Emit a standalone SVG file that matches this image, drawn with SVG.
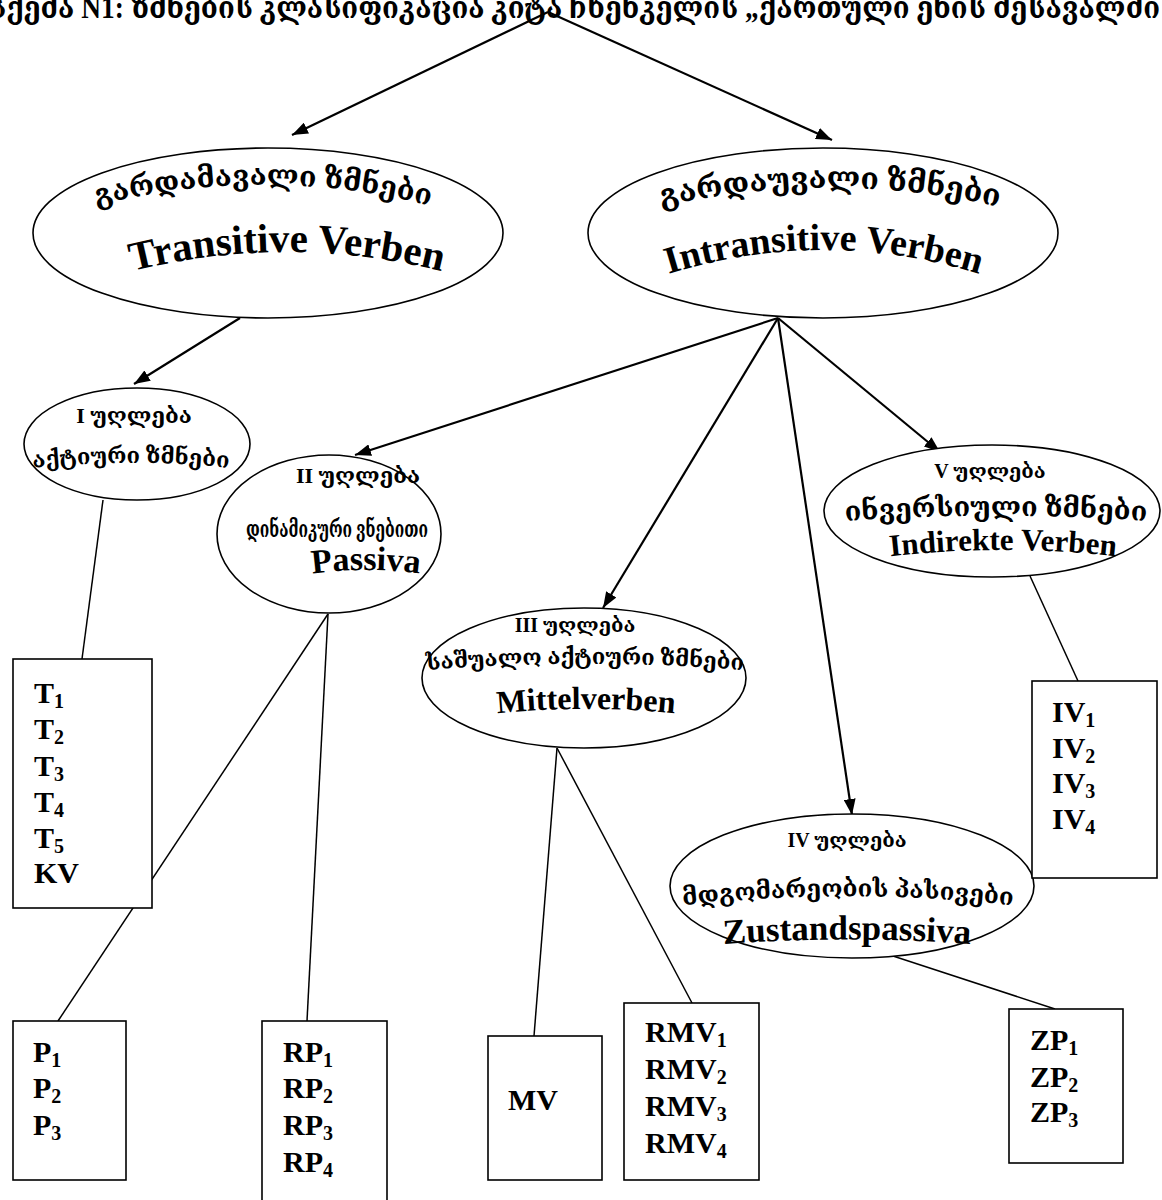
<svg xmlns="http://www.w3.org/2000/svg" width="1162" height="1200" viewBox="0 0 1162 1200">
<style>
.ell{fill:#fff;stroke:#000;stroke-width:1.6}
.box{fill:#fff;stroke:#000;stroke-width:1.6}
.ln{fill:none;stroke:#000;stroke-width:1.5}
.ar{fill:none;stroke:#000;stroke-width:2.2}
.geo{font-family:"Liberation Serif","DejaVu Serif","DejaVu Sans",serif;font-weight:bold;fill:#000}
.lat{font-family:"Liberation Serif","DejaVu Serif",serif;font-weight:bold;fill:#000}
.bx{font-family:"Liberation Serif","Times New Roman",serif;font-weight:bold;font-size:30px;fill:#000}
.sub{font-size:20px}
.guide{fill:none;stroke:none}
</style>
<defs>
<marker id="ah" viewBox="0 0 16 12" refX="16" refY="6" markerWidth="16" markerHeight="12" orient="auto" markerUnits="userSpaceOnUse"><path d="M0,0 L16,6 L0,12 z" fill="#000"/></marker>
<path id="p1a" class="guide" d="M 80 210 Q 263 160 446 210"/>
<path id="p1b" class="guide" d="M 100 280 Q 287 224 474 280"/>
<path id="p2a" class="guide" d="M 640 212 Q 830 164 1020 212"/>
<path id="p2b" class="guide" d="M 650 280 Q 824 220 998 280"/>
<path id="p3a" class="guide" d="M 15 470 Q 131 456 247 470"/>
<path id="p4b" class="guide" d="M 285 578 Q 366 562 447 578"/>
<path id="p5a" class="guide" d="M 405 672 Q 585 656 765 672"/>
<path id="p5b" class="guide" d="M 465 717 Q 586 701 707 717"/>
<path id="p6a" class="guide" d="M 805 524 Q 996 508 1187 524"/>
<path id="p6b" class="guide" d="M 860 560 Q 1003 540 1146 560"/>
<path id="p7a" class="guide" d="M 670 907 Q 848 886 1026 907"/>
<path id="p7b" class="guide" d="M 700 946 Q 847 933 994 946"/>
</defs>
<rect width="1162" height="1200" fill="#fff"/>

<g id="title">
<text class="geo" x="-12" y="18" font-size="31" textLength="1172" lengthAdjust="spacingAndGlyphs">სქემა N1: ზმნების კლასიფიკაცია კიტა ჩხენკელის „ქართული ენის შესავალში</text>
</g>

<g id="connectors">
<line class="ar" x1="548" y1="12" x2="292" y2="135" marker-end="url(#ah)"/>
<line class="ar" x1="548" y1="12" x2="832" y2="140" marker-end="url(#ah)"/>
<line class="ar" x1="240" y1="318" x2="134" y2="384" marker-end="url(#ah)"/>
<line class="ar" x1="778" y1="318" x2="355" y2="455" marker-end="url(#ah)"/>
<line class="ar" x1="778" y1="318" x2="603" y2="608" marker-end="url(#ah)"/>
<line class="ar" x1="778" y1="318" x2="852" y2="815" marker-end="url(#ah)"/>
<line class="ar" x1="778" y1="318" x2="940" y2="452" marker-end="url(#ah)"/>
<line class="ln" x1="103" y1="500" x2="82" y2="659"/>
<line class="ln" x1="328" y1="614" x2="58" y2="1021"/>
<line class="ln" x1="328" y1="614" x2="307" y2="1021"/>
<line class="ln" x1="557" y1="748" x2="534" y2="1036"/>
<line class="ln" x1="557" y1="748" x2="692" y2="1003"/>
<line class="ln" x1="1030" y1="576" x2="1078" y2="681"/>
<line class="ln" x1="893" y1="956" x2="1055" y2="1009"/>
</g>

<g id="node-transitive">
<ellipse class="ell" cx="268" cy="233" rx="235" ry="85"/>
<text class="geo" font-size="28.5" text-anchor="middle"><textPath href="#p1a" startOffset="50%">გარდამავალი ზმნები</textPath></text>
<text class="lat" font-size="41" text-anchor="middle"><textPath href="#p1b" startOffset="50%">Transitive Verben</textPath></text>
</g>

<g id="node-intransitive">
<ellipse class="ell" cx="823" cy="233" rx="235" ry="85"/>
<text class="geo" font-size="30" text-anchor="middle"><textPath href="#p2a" startOffset="50%">გარდაუვალი ზმნები</textPath></text>
<text class="lat" font-size="38" text-anchor="middle"><textPath href="#p2b" startOffset="50%">Intransitive Verben</textPath></text>
</g>

<g id="node-I">
<ellipse class="ell" cx="137" cy="444" rx="113" ry="56"/>
<text class="geo" font-size="22" x="134" y="423" text-anchor="middle">I უღლება</text>
<text class="geo" font-size="22" text-anchor="middle"><textPath href="#p3a" startOffset="50%">აქტიური ზმნები</textPath></text>
</g>

<g id="node-II">
<ellipse class="ell" cx="329" cy="534" rx="112" ry="79"/>
<text class="geo" font-size="22" x="358" y="483" text-anchor="middle">II უღლება</text>
<text class="geo" font-size="23" x="337" y="537" text-anchor="middle" textLength="182" lengthAdjust="spacingAndGlyphs">დინამიკური ვნებითი</text>
<text class="lat" font-size="34" text-anchor="middle"><textPath href="#p4b" startOffset="50%">Passiva</textPath></text>
</g>

<g id="node-III">
<ellipse class="ell" cx="584" cy="678" rx="162" ry="70"/>
<text class="geo" font-size="20" x="575" y="632" text-anchor="middle">III უღლება</text>
<text class="geo" font-size="22" text-anchor="middle"><textPath href="#p5a" startOffset="50%">საშუალო აქტიური ზმნები</textPath></text>
<text class="lat" font-size="32" text-anchor="middle"><textPath href="#p5b" startOffset="50%">Mittelverben</textPath></text>
</g>

<g id="node-V">
<ellipse class="ell" cx="992" cy="511" rx="168" ry="66"/>
<text class="geo" font-size="20" x="990" y="478" text-anchor="middle">V უღლება</text>
<text class="geo" font-size="27" text-anchor="middle"><textPath href="#p6a" startOffset="50%">ინვერსიული ზმნები</textPath></text>
<text class="lat" font-size="31" text-anchor="middle"><textPath href="#p6b" startOffset="50%">Indirekte Verben</textPath></text>
</g>

<g id="node-IV">
<ellipse class="ell" cx="852" cy="886" rx="182" ry="72"/>
<text class="geo" font-size="20" x="847" y="847" text-anchor="middle">IV უღლება</text>
<text class="geo" font-size="24" text-anchor="middle"><textPath href="#p7a" startOffset="50%">მდგომარეობის პასივები</textPath></text>
<text class="lat" font-size="35" text-anchor="middle"><textPath href="#p7b" startOffset="50%">Zustandspassiva</textPath></text>
</g>

<g id="box-T">
<rect class="box" x="13" y="659" width="139" height="249"/>
<text class="bx" x="34" y="703">T<tspan class="sub" dy="5">1</tspan></text>
<text class="bx" x="34" y="739">T<tspan class="sub" dy="5">2</tspan></text>
<text class="bx" x="34" y="776">T<tspan class="sub" dy="5">3</tspan></text>
<text class="bx" x="34" y="812">T<tspan class="sub" dy="5">4</tspan></text>
<text class="bx" x="34" y="848">T<tspan class="sub" dy="5">5</tspan></text>
<text class="bx" x="34" y="883">KV</text>
</g>

<g id="box-P">
<rect class="box" x="13" y="1021" width="113" height="159"/>
<text class="bx" x="33" y="1062">P<tspan class="sub" dy="5">1</tspan></text>
<text class="bx" x="33" y="1098">P<tspan class="sub" dy="5">2</tspan></text>
<text class="bx" x="33" y="1135">P<tspan class="sub" dy="5">3</tspan></text>
</g>

<g id="box-RP">
<rect class="box" x="262" y="1021" width="125" height="200"/>
<text class="bx" x="283" y="1062">RP<tspan class="sub" dy="5">1</tspan></text>
<text class="bx" x="283" y="1098">RP<tspan class="sub" dy="5">2</tspan></text>
<text class="bx" x="283" y="1135">RP<tspan class="sub" dy="5">3</tspan></text>
<text class="bx" x="283" y="1172">RP<tspan class="sub" dy="5">4</tspan></text>
</g>

<g id="box-MV">
<rect class="box" x="488" y="1036" width="114" height="144"/>
<text class="bx" x="508" y="1110">MV</text>
</g>

<g id="box-RMV">
<rect class="box" x="624" y="1003" width="135" height="177"/>
<text class="bx" x="645" y="1042">RMV<tspan class="sub" dy="5">1</tspan></text>
<text class="bx" x="645" y="1079">RMV<tspan class="sub" dy="5">2</tspan></text>
<text class="bx" x="645" y="1116">RMV<tspan class="sub" dy="5">3</tspan></text>
<text class="bx" x="645" y="1153">RMV<tspan class="sub" dy="5">4</tspan></text>
</g>

<g id="box-IV">
<rect class="box" x="1032" y="681" width="125" height="197"/>
<text class="bx" x="1052" y="722">IV<tspan class="sub" dy="5">1</tspan></text>
<text class="bx" x="1052" y="758">IV<tspan class="sub" dy="5">2</tspan></text>
<text class="bx" x="1052" y="793">IV<tspan class="sub" dy="5">3</tspan></text>
<text class="bx" x="1052" y="829">IV<tspan class="sub" dy="5">4</tspan></text>
</g>

<g id="box-ZP">
<rect class="box" x="1009" y="1009" width="114" height="154"/>
<text class="bx" x="1030" y="1050">ZP<tspan class="sub" dy="5">1</tspan></text>
<text class="bx" x="1030" y="1087">ZP<tspan class="sub" dy="5">2</tspan></text>
<text class="bx" x="1030" y="1122">ZP<tspan class="sub" dy="5">3</tspan></text>
</g>
</svg>
